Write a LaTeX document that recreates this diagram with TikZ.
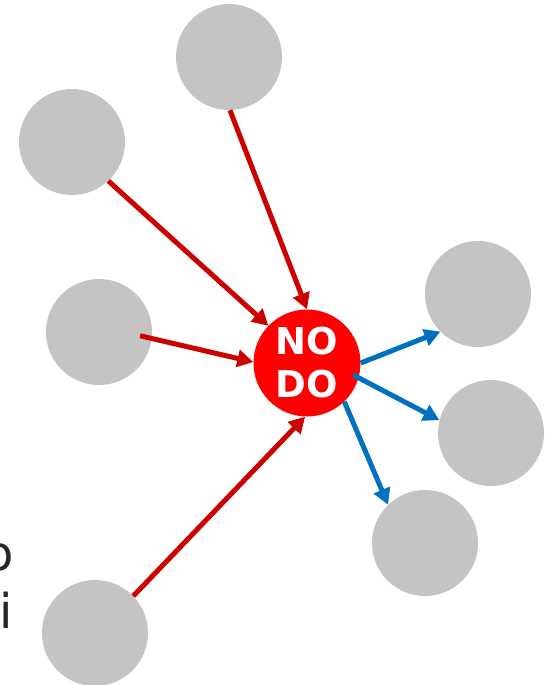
\documentclass[tikz,border=0pt]{standalone}
\usepackage{fontspec}
\setmainfont{DejaVu Sans}
\usepackage{xcolor}
\usetikzlibrary{arrows.meta}
\definecolor{ballgray}{HTML}{C4C4C4}
\definecolor{hubred}{HTML}{FF0000}
\definecolor{darkred}{HTML}{CC0000}
\definecolor{outblue}{HTML}{0070C0}
\definecolor{inkgray}{HTML}{262626}

\begin{document}
\begin{tikzpicture}[
  x=1pt,y=-1pt,
  ball/.style={circle,fill=ballgray,minimum size=106pt,inner sep=0pt},
  hub/.style={circle,fill=hubred,minimum size=107pt,inner sep=0pt,text=white,align=center,font=\fontsize{37}{43}\selectfont\bfseries},
  redarr/.style={-{Triangle[length=16pt,width=17pt]},line width=5pt,draw=darkred},
  bluearr/.style={-{Triangle[length=16pt,width=17pt]},line width=5pt,draw=outblue},
  cut/.style={anchor=base east,inner sep=0pt,text=inkgray,font=\fontsize{48}{58}\selectfont}
]
\useasboundingbox (0,0) rectangle (549,685);
\clip (0,0) rectangle (549,685);
% text running off the left side
\node[cut] (lineo) at (14,570) {o};
\node[cut] (linei) at (13,628) {i};
% incoming nodes
\node[ball] (src1) at (229,57) {};
\node[ball] (src2) at (72,142) {};
\node[ball] (src3) at (99,332) {};
\node[ball] (src4) at (95,633) {};
% outgoing nodes
\node[ball] (dst1) at (478,294) {};
\node[ball] (dst2) at (491,433) {};
\node[ball] (dst3) at (425,543) {};
\node[hub] (hub) at (307,363) {NO\\DO};
\draw[redarr] (src1.271) -- (hub.90);
\draw[redarr] (src2.313) -- (hub.136);
\draw[redarr,shorten <=-12pt] (src3.-7) -- (hub.179);
\draw[redarr] (src4.44) -- (hub.268);
\draw[bluearr] (hub.0) -- (dst1.225);
\draw[bluearr,shorten <=-6pt] (hub.-16) -- (dst2.166);
\draw[bluearr] (hub.-46) -- (dst3.134);
\end{tikzpicture}
\end{document}
